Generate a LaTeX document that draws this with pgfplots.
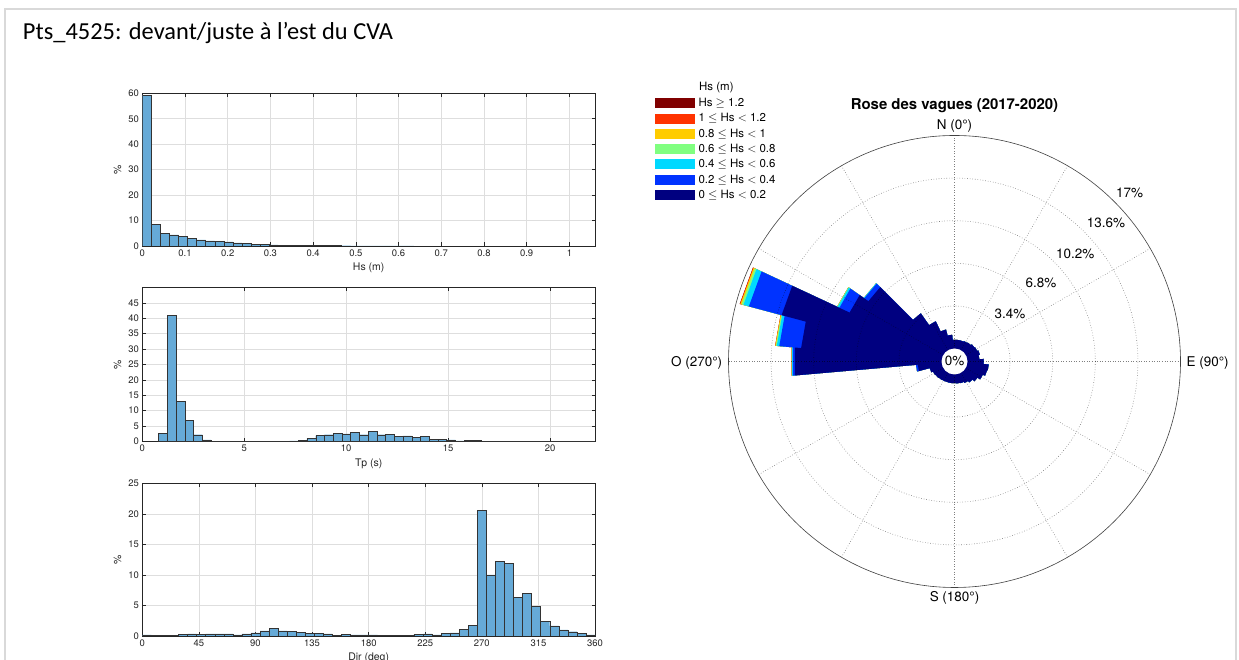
\documentclass[border=0pt]{standalone}
\usepackage{pgfplots}
\pgfplotsset{compat=1.18}
\usepackage{pgfplotstable}
\usepackage{fontspec}
\setmainfont{TeX Gyre Heros}
\newfontfamily\slidefont{Carlito}

% histogram face colour (default blue at 60 % opacity on white)
\definecolor{histface}{rgb}{0.40,0.668,0.845}
% Hs classes of the wave rose
\definecolor{hsA}{rgb}{0,0,0.5}
\definecolor{hsB}{rgb}{0,0.2,1}
\definecolor{hsC}{rgb}{0,0.85,1}
\definecolor{hsD}{rgb}{0.5,1,0.5}
\definecolor{hsE}{rgb}{1,0.8,0}
\definecolor{hsF}{rgb}{1,0.2,0}
\definecolor{hsG}{rgb}{0.5,0,0}

% Hs histogram: bin centre (m), share of records (%)
\pgfplotstableread{
x y
0.0106 59.3
0.0318 8.5
0.0530 4.85
0.0742 4.35
0.0954 3.9
0.1166 2.9
0.1378 2.4
0.1590 2.0
0.1802 1.75
0.2014 1.6
0.2226 1.2
0.2438 0.9
0.2650 0.7
0.2862 0.6
0.3074 0.45
0.3286 0.38
0.3498 0.3
0.3710 0.25
0.3922 0.2
0.4134 0.17
0.4346 0.14
0.4558 0.12
0.4770 0.1
0.4982 0.09
0.5194 0.08
0.5406 0.06
0.5618 0.05
0.5830 0.04
0.6042 0.03
0.6254 0.03
}\hsdata

% Tp histogram: bin centre (s), share (%)
\pgfplotstableread{
x y
1.014 2.7
1.442 41.0
1.870 13.1
2.298 6.9
2.726 2.2
3.154 0.5
3.582 0.15
4.010 0.05
4.438 0.05
4.866 0.05
5.294 0.05
5.722 0.05
6.150 0.08
6.578 0.1
7.006 0.15
7.434 0.2
7.862 0.45
8.290 1.0
8.718 1.9
9.146 2.2
9.574 2.6
10.002 2.5
10.430 2.9
10.858 2.2
11.286 3.4
11.714 2.2
12.142 2.4
12.570 1.7
12.998 1.8
13.426 1.3
13.854 1.6
14.282 0.6
14.710 0.6
15.138 0.5
15.566 0.2
15.994 0.4
16.422 0.3
16.850 0.15
17.278 0.12
17.706 0.1
18.134 0.1
18.562 0.08
18.990 0.06
19.418 0.05
19.846 0.04
20.274 0.03
20.702 0.03
21.130 0.02
21.558 0.02
21.986 0.02
}\tpdata

% direction histogram: bin centre (deg), share (%)
\pgfplotstableread{
x y
3.6 0.2
10.8 0.15
18.0 0.1
25.2 0.15
32.4 0.3
39.6 0.35
46.8 0.3
54.0 0.35
61.2 0.35
68.4 0.35
75.6 0.2
82.8 0.35
90.0 0.5
97.2 0.85
104.4 1.2
111.6 0.85
118.8 0.8
126.0 0.55
133.2 0.45
140.4 0.4
147.6 0.35
154.8 0.15
162.0 0.3
169.2 0.2
176.4 0.2
183.6 0.2
190.8 0.15
198.0 0.15
205.2 0.15
212.4 0.15
219.6 0.3
226.8 0.35
234.0 0.2
241.2 0.45
248.4 0.5
255.6 1.05
262.8 1.75
270.0 20.6
277.2 10.0
284.4 12.2
291.6 11.9
298.8 6.3
306.0 7.0
313.2 4.8
320.4 2.35
327.6 1.65
334.8 1.0
342.0 0.7
349.2 0.45
356.4 0.2
}\dirdata

% wave rose: sector edges (bearing, deg) and share of each Hs class (%)
\pgfplotstableread{
a n1 n2 n3 n4 n5 n6 n7
-5 0.70 0 0 0 0 0 0
5 0.70 0 0 0 0 0 0
5 0.70 0 0 0 0 0 0
15 0.70 0 0 0 0 0 0
15 0.70 0 0 0 0 0 0
25 0.70 0 0 0 0 0 0
25 0.75 0 0 0 0 0 0
35 0.75 0 0 0 0 0 0
35 0.80 0 0 0 0 0 0
45 0.80 0 0 0 0 0 0
45 0.90 0 0 0 0 0 0
55 0.90 0 0 0 0 0 0
55 0.95 0 0 0 0 0 0
65 0.95 0 0 0 0 0 0
65 1.05 0 0 0 0 0 0
75 1.05 0 0 0 0 0 0
75 0.95 0 0 0 0 0 0
85 0.95 0 0 0 0 0 0
85 1.30 0 0 0 0 0 0
95 1.30 0 0 0 0 0 0
95 1.70 0 0 0 0 0 0
105 1.70 0 0 0 0 0 0
105 1.65 0 0 0 0 0 0
115 1.65 0 0 0 0 0 0
115 1.45 0 0 0 0 0 0
125 1.45 0 0 0 0 0 0
125 1.20 0 0 0 0 0 0
135 1.20 0 0 0 0 0 0
135 1.00 0 0 0 0 0 0
145 1.00 0 0 0 0 0 0
145 0.85 0 0 0 0 0 0
155 0.85 0 0 0 0 0 0
155 0.75 0 0 0 0 0 0
165 0.75 0 0 0 0 0 0
165 0.72 0 0 0 0 0 0
175 0.72 0 0 0 0 0 0
175 0.70 0 0 0 0 0 0
185 0.70 0 0 0 0 0 0
185 0.70 0 0 0 0 0 0
195 0.70 0 0 0 0 0 0
195 0.70 0 0 0 0 0 0
205 0.70 0 0 0 0 0 0
205 0.72 0 0 0 0 0 0
215 0.72 0 0 0 0 0 0
215 0.75 0 0 0 0 0 0
225 0.75 0 0 0 0 0 0
225 0.80 0 0 0 0 0 0
235 0.80 0 0 0 0 0 0
235 0.85 0 0 0 0 0 0
245 0.85 0 0 0 0 0 0
245 1.00 0 0 0 0 0 0
255 1.00 0 0 0 0 0 0
255 1.90 0.15 0 0 0 0 0
265 1.90 0.15 0 0 0 0 0
265 11.75 0.15 0.06 0.02 0.02 0 0
275 11.75 0.15 0.06 0.02 0.02 0 0
275 11.25 1.75 0.20 0.07 0.05 0.01 0
285 11.25 1.75 0.20 0.07 0.05 0.01 0
285 13.25 2.70 0.45 0.15 0.10 0.04 0.02
295 13.25 2.70 0.45 0.15 0.10 0.04 0.02
295 8.20 0.90 0.15 0.05 0 0 0
305 8.20 0.90 0.15 0.05 0 0 0
305 7.35 0.40 0.05 0 0 0 0
315 7.35 0.40 0.05 0 0 0 0
315 3.65 0 0 0 0 0 0
325 3.65 0 0 0 0 0 0
325 2.50 0 0 0 0 0 0
335 2.50 0 0 0 0 0 0
335 1.60 0 0 0 0 0 0
345 1.60 0 0 0 0 0 0
345 1.10 0 0 0 0 0 0
355 1.10 0 0 0 0 0 0
}\rosedata

\pgfplotsset{
  hist/.style={
    scale only axis, width=452.7bp,
    ymin=0,
    axis line style={black!85, line width=0.5bp},
    grid=major, major grid style={black!13, line width=0.5bp},
    tick align=inside, tick pos=both, major tick length=3.5bp,
    tick style={black!85, line width=0.5bp},
    tick label style={font=\fontsize{9.5}{11}\selectfont, text=black!85},
    label style={font=\fontsize{10.5}{12}\selectfont, text=black!85},
    /pgf/number format/assume math mode=true,
    ylabel={\%},
  },
  histbar/.style={ybar, bar shift=0pt, fill=histface, draw=black!80, line width=0.4bp},
  petal/.style={draw=none, fill=#1},
}

\begin{document}
\begin{tikzpicture}[x=1bp, y=1bp]
\useasboundingbox (0,0) rectangle (1239,660);
\clip (0,0) rectangle (1239,660);
\fill[white] (0,0) rectangle (1239,660);

% slide frame and heading
\draw[black!15, line width=2.5bp] (5,-5) -- (5,651) -- (1236,651) -- (1236,-5);
\node[anchor=base west, inner sep=0pt, font=\slidefont\fontsize{24.5}{28}\selectfont]
  at (22.7,620.5) {Pts\_4525: devant/juste à l’est du CVA};

% significant wave height
\begin{axis}[hist, at={(142.3bp,414bp)}, anchor=south west, height=152.7bp,
  xmin=0, xmax=1.06, ymax=60,
  xtick={0,0.1,0.2,0.3,0.4,0.5,0.6,0.7,0.8,0.9,1},
  ytick={0,10,...,60},
  xlabel={Hs (m)}]
\addplot[histbar, bar width=0.0212] table {\hsdata};
\end{axis}

% peak period
\begin{axis}[hist, at={(142.3bp,218.5bp)}, anchor=south west, height=154bp,
  xmin=0, xmax=22.2, ymax=50,
  xtick={0,5,...,20},
  ytick={0,5,...,45},
  xlabel={Tp (s)}]
\addplot[histbar, bar width=0.428] table {\tpdata};
\end{axis}

% direction
\begin{axis}[hist, at={(142.3bp,24bp)}, anchor=south west, height=152.7bp,
  xmin=0, xmax=360, ymax=25,
  xtick={0,45,...,360},
  ytick={0,5,...,25},
  xlabel={Dir (deg)}]
\addplot[histbar, bar width=7.2] table {\dirdata};
\end{axis}

% wave rose: one star-shaped outline per cumulative Hs class, outermost first
\begin{axis}[
  at={(954.5bp,298.5bp)}, anchor=center,
  x=12.53bp, y=12.53bp,
  xmin=-18.04, xmax=18.04, ymin=-18.04, ymax=18.04,
  hide axis, clip=false,
  legend style={at={(-0.1635,1.0882)}, anchor=north west, draw=none, fill=none,
    inner sep=0pt, outer sep=0pt, row sep=0pt, column sep=4bp,
    font=\fontsize{11.5}{13}\selectfont,
    nodes={inner sep=0pt, minimum height=15.3bp}},
  legend cell align=left,
  legend image code/.code={\fill[#1] (0bp,-5bp) rectangle (40bp,5bp);},
]
\addplot[petal=hsG] table[
  x expr={(\thisrow{n1}+\thisrow{n2}+\thisrow{n3}+\thisrow{n4}+\thisrow{n5}+\thisrow{n6}+\thisrow{n7}+1.04)*sin(\thisrow{a})},
  y expr={(\thisrow{n1}+\thisrow{n2}+\thisrow{n3}+\thisrow{n4}+\thisrow{n5}+\thisrow{n6}+\thisrow{n7}+1.04)*cos(\thisrow{a})}]
  {\rosedata};
\addlegendentry{Hs $\geq$ 1.2}
\addplot[petal=hsF] table[
  x expr={(\thisrow{n1}+\thisrow{n2}+\thisrow{n3}+\thisrow{n4}+\thisrow{n5}+\thisrow{n6}+1.04)*sin(\thisrow{a})},
  y expr={(\thisrow{n1}+\thisrow{n2}+\thisrow{n3}+\thisrow{n4}+\thisrow{n5}+\thisrow{n6}+1.04)*cos(\thisrow{a})}]
  {\rosedata};
\addlegendentry{1 $\leq$ Hs $<$ 1.2}
\addplot[petal=hsE] table[
  x expr={(\thisrow{n1}+\thisrow{n2}+\thisrow{n3}+\thisrow{n4}+\thisrow{n5}+1.04)*sin(\thisrow{a})},
  y expr={(\thisrow{n1}+\thisrow{n2}+\thisrow{n3}+\thisrow{n4}+\thisrow{n5}+1.04)*cos(\thisrow{a})}]
  {\rosedata};
\addlegendentry{0.8 $\leq$ Hs $<$ 1}
\addplot[petal=hsD] table[
  x expr={(\thisrow{n1}+\thisrow{n2}+\thisrow{n3}+\thisrow{n4}+1.04)*sin(\thisrow{a})},
  y expr={(\thisrow{n1}+\thisrow{n2}+\thisrow{n3}+\thisrow{n4}+1.04)*cos(\thisrow{a})}]
  {\rosedata};
\addlegendentry{0.6 $\leq$ Hs $<$ 0.8}
\addplot[petal=hsC] table[
  x expr={(\thisrow{n1}+\thisrow{n2}+\thisrow{n3}+1.04)*sin(\thisrow{a})},
  y expr={(\thisrow{n1}+\thisrow{n2}+\thisrow{n3}+1.04)*cos(\thisrow{a})}]
  {\rosedata};
\addlegendentry{0.4 $\leq$ Hs $<$ 0.6}
\addplot[petal=hsB] table[
  x expr={(\thisrow{n1}+\thisrow{n2}+1.04)*sin(\thisrow{a})},
  y expr={(\thisrow{n1}+\thisrow{n2}+1.04)*cos(\thisrow{a})}]
  {\rosedata};
\addlegendentry{0.2 $\leq$ Hs $<$ 0.4}
\addplot[petal=hsA] table[
  x expr={(\thisrow{n1}+1.04)*sin(\thisrow{a})},
  y expr={(\thisrow{n1}+1.04)*cos(\thisrow{a})}]
  {\rosedata};
\addlegendentry{0 $\leq$ Hs $<$ 0.2}
\end{axis}

% rose grid, centre hole and labels
\begin{scope}[shift={(954.5,298.5)}]
  \foreach \r in {55.6,98.2,140.8,183.4}
    \draw[black, opacity=0.5, dotted, line width=0.6bp] (0,0) circle[radius=\r bp];
  \foreach \t in {0,30,...,330}
    \draw[black, opacity=0.5, dotted, line width=0.6bp] (90-\t:13bp) -- (90-\t:226bp);
  \draw[black!75, line width=0.6bp] (0,0) circle[radius=226bp];
  \fill[white] (0,0) circle[radius=13bp];
  \begin{scope}[every node/.style={font=\fontsize{13.5}{15}\selectfont, inner sep=0pt}]
    \node at (0,1) {0\%};
    \node at (0,235.7) {N (0°)};
    \node at (0,-236.5) {S (180°)};
    \node[anchor=east] at (-232.1,-1.1) {O (270°)};
    \node[anchor=west] at (231.9,-1.1) {E (90°)};
    \node at (55.5,47.9) {3.4\%};
    \node at (86.5,78.3) {6.8\%};
    \node at (120.7,108) {10.2\%};
    \node at (151.4,138.4) {13.6\%};
    \node at (175.1,168.8) {17\%};
  \end{scope}
  \node[font=\bfseries\fontsize{15}{17}\selectfont, inner sep=0pt] at (0,255.5) {Rose des vagues (2017-2020)};
  \node[anchor=west, inner sep=0pt, font=\fontsize{11.5}{13}\selectfont] at (699-954.5,274) {Hs (m)};
\end{scope}
\end{tikzpicture}
\end{document}
